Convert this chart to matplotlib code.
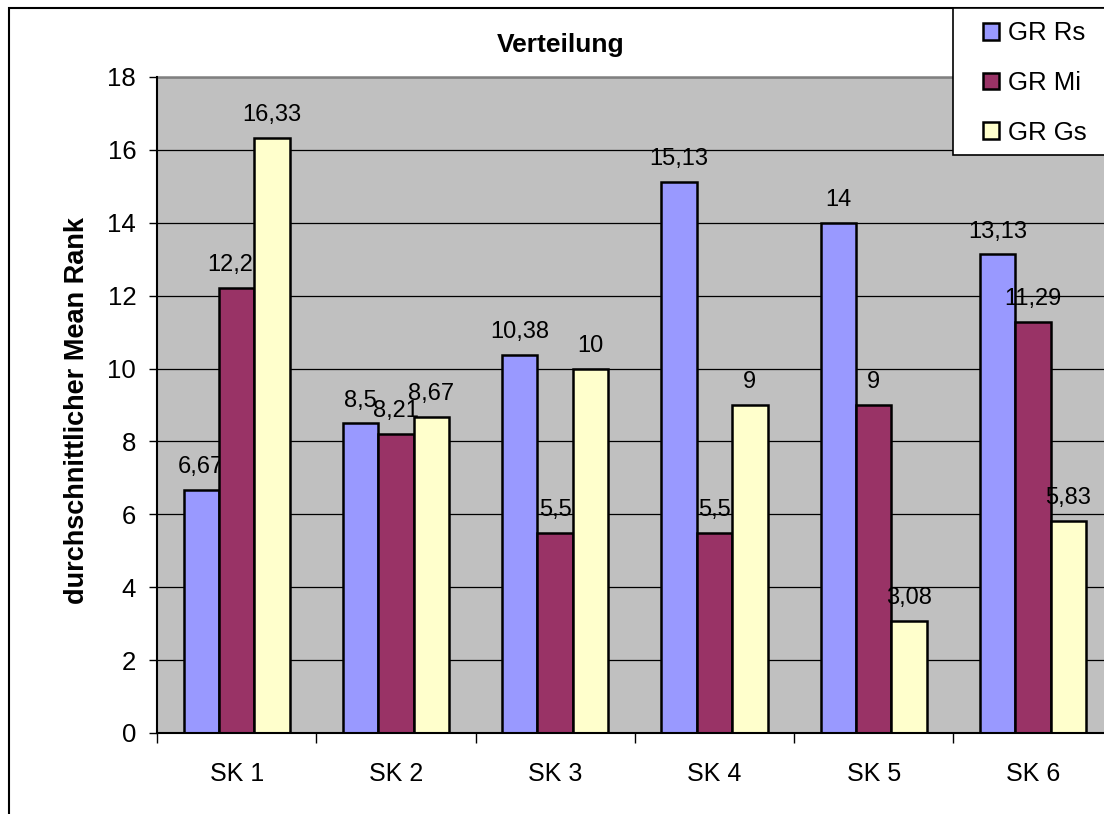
import matplotlib
matplotlib.use("Agg")
import matplotlib.pyplot as plt
from matplotlib.patches import Rectangle
import numpy as np

plt.rcParams['font.family'] = ['Liberation Sans', 'DejaVu Sans']

categories = ["SK 1", "SK 2", "SK 3", "SK 4", "SK 5", "SK 6"]
series_names = ["GR Rs", "GR Mi", "GR Gs"]
gr_rs = [6.67, 8.5, 10.38, 15.13, 14, 13.13]
gr_mi = [12.21, 8.21, 5.5, 5.5, 9, 11.29]
gr_gs = [16.33, 8.67, 10, 9, 3.08, 5.83]
colors = ["#9999FF", "#993366", "#FFFFCC"]
y_ticks = [0, 2, 4, 6, 8, 10, 12, 14, 16, 18]

W, H = 1104, 814
fig = plt.figure(figsize=(W / 100, H / 100), dpi=100)
fig.patch.set_facecolor("white")

# plot area (runs slightly past the right edge of the canvas)
left_px, right_px, top_px, bot_px = 157, 1112.6, 77, 733
ax = fig.add_axes([left_px / W, 1 - bot_px / H,
                   (right_px - left_px) / W, (bot_px - top_px) / H])
ax.set_facecolor("#C0C0C0")

x = np.arange(len(categories))
bar_w = 1 / 4.5
bars = []
for i, (vals, name, col) in enumerate(zip([gr_rs, gr_mi, gr_gs], series_names, colors)):
    offs = (i - 1) * bar_w
    # each series is layered above the labels of the previous one
    b = ax.bar(x + offs, vals, width=bar_w, color=col, edgecolor="black",
               linewidth=1.8, label=name, zorder=3 + 2 * i)
    bars.append(b)
    for xi, v in zip(x + offs, vals):
        ax.annotate(f"{v:g}".replace(".", ","), (xi, v), xytext=(0, 12),
                    textcoords="offset points", ha="center", va="baseline",
                    fontsize=17, zorder=4 + 2 * i)

ax.set_xlim(-0.5, len(categories) - 0.5)
ax.set_ylim(0, 18)
ax.set_yticks(y_ticks)
ax.set_yticklabels([str(t) for t in y_ticks], fontsize=18.5)
ax.tick_params(axis="y", direction="out", length=6, width=1, pad=9)

# category boundaries carry the tick marks, centres carry the labels
ax.set_xticks(np.arange(len(categories) + 1) - 0.5)
ax.set_xticklabels([])
ax.tick_params(axis="x", which="major", direction="out", length=7, width=1)
ax.set_xticks(x, minor=True)
ax.set_xticklabels(categories, minor=True, fontsize=18)
ax.tick_params(axis="x", which="minor", length=0, pad=21)

ax.yaxis.grid(True, color="black", linewidth=0.9, zorder=1)
ax.set_axisbelow(True)
for s in ["left", "bottom"]:
    ax.spines[s].set_color("black")
    ax.spines[s].set_linewidth(1.5)
    ax.spines[s].set_zorder(10)
ax.spines["top"].set_color("#808080")
ax.spines["top"].set_linewidth(1.8)
ax.spines["right"].set_color("#808080")

fig.text(561 / W, 1 - 52 / H, "Verteilung", ha="center", va="baseline",
         fontsize=19, fontweight="bold")
fig.text(77.5 / W, 1 - 411 / H, "durchschnittlicher Mean Rank", rotation=90,
         ha="center", va="center", fontsize=19.5, fontweight="bold")

# outer chart frame
fig.patches.append(Rectangle((9 / W, -0.1), 1.2, 1 - 8 / H + 0.1,
                             transform=fig.transFigure, fill=False,
                             edgecolor="black", linewidth=1.5, zorder=0))
# legend box
fig.patches.append(Rectangle((953 / W, 1 - 155 / H), 0.2, 147 / H,
                             transform=fig.transFigure, facecolor="white",
                             edgecolor="black", linewidth=1.2, zorder=4))
leg = fig.legend(handles=bars, labels=series_names, loc="center left",
                 bbox_to_anchor=(983 / W, 1 - 83 / H), frameon=False,
                 fontsize=18.5, handlelength=0.62, handleheight=0.62,
                 handletextpad=0.35, labelspacing=1.0, borderpad=0,
                 borderaxespad=0)
leg.set_zorder(6)

fig.savefig("out.png", dpi=100)
